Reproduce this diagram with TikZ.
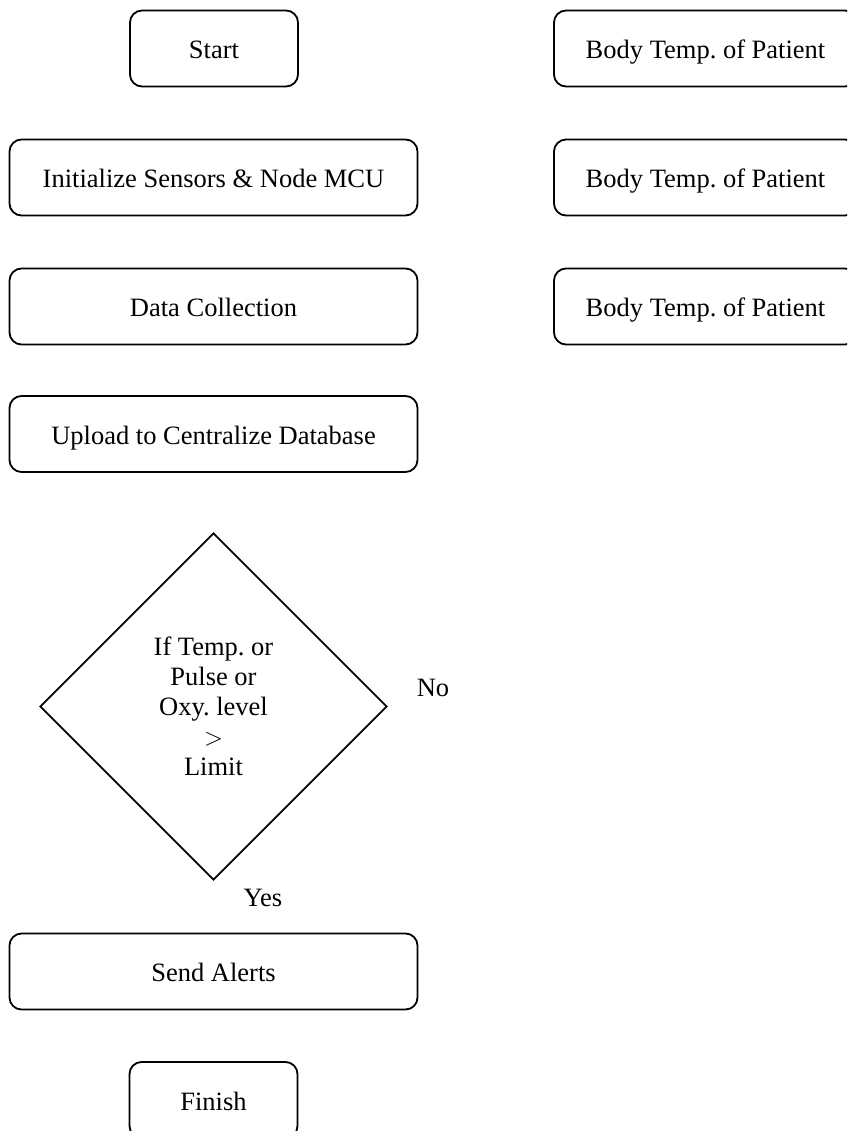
\documentclass[tikz,border=0pt]{standalone}
\usepackage{fontspec}
\setmainfont{Liberation Serif}
\usetikzlibrary{shapes.geometric}
\frenchspacing
\begin{document}
\begin{tikzpicture}[x=1pt,y=-1pt,
  every node/.style={font=\fontsize{26.5}{30}\selectfont},
  box/.style={draw, line width=1.8pt, rounded corners=12pt, minimum height=76pt, inner sep=0pt, text height=22pt, text depth=2pt},
  wide/.style={box, minimum width=408pt},
  small/.style={box, minimum width=168pt},
  side/.style={box, minimum width=303pt},
  decision/.style={draw, line width=1.8pt, diamond, minimum width=347pt, minimum height=347pt, inner sep=0pt, align=center},
  lbl/.style={inner sep=0pt}]
\clip (0,0) rectangle (847,1131);
\fill[white] (0,0) rectangle (847,1131);
\node[small] (start) at (214,48.5) {Start};
\node[wide] (init) at (213.5,177.5) {Initialize Sensors \& Node MCU};
\node[wide] (data) at (213.5,306.5) {Data Collection};
\node[wide] (upload) at (213.5,434) {Upload to Centralize Database};
\node[decision] (dec) at (213.5,706.5) {If Temp. or\\Pulse or\\Oxy. level\\$>$\\Limit};
\node[lbl] (no) at (433,688) {No};
\node[lbl] (yes) at (263,898) {Yes};
\node[wide] (send) at (213.5,971.5) {Send Alerts};
\node[small] (finish) at (213.5,1100) {Finish};
\node[side] (b1) at (705.5,48.5) {Body Temp. of Patient};
\node[side] (b2) at (705.5,177.5) {Body Temp. of Patient};
\node[side] (b3) at (705.5,306.5) {Body Temp. of Patient};
\end{tikzpicture}
\end{document}
